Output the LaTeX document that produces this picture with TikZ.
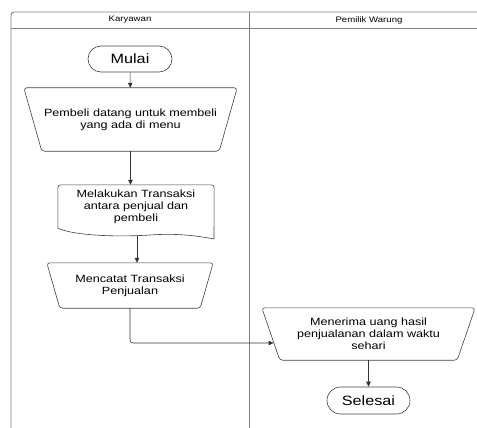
\documentclass[tikz,border=0pt]{standalone}
\usepackage{fontspec}
\setmainfont{Liberation Sans}[FakeStretch=1.2]
\usetikzlibrary{shapes.misc,arrows.meta,calc}

\begin{document}
\begin{tikzpicture}[x=1pt,y=-1pt,
	lane/.style={draw=black!50, line width=0.9pt},
	terminal/.style={draw=black!75, line width=0.6pt, shape=rounded rectangle, inner sep=0pt, font=\fontsize{13.5}{15}\selectfont},
	box/.style={inner sep=0pt, align=center, font=\fontsize{10.5}{11.8}\selectfont},
	outline/.style={draw=black!75, line width=0.6pt, rounded corners=3pt},
	flow/.style={draw=black!80, line width=0.6pt, -{Triangle[length=5pt,width=4.5pt]}}]
	\useasboundingbox (0,0) rectangle (477,428);

	\draw[lane, rounded corners=3pt] (477,12) -- (11,12) -- (11,428);
	\draw[lane] (11,28.5) -- (477,28.5);
	\draw[lane] (249,12) -- (249,428);
	\node[font=\fontsize{8}{9}\selectfont] (karyawan) at (130,20) {Karyawan};
	\node[font=\fontsize{8}{9}\selectfont] (pemilik) at (369,20) {Pemilik Warung};

	\node[terminal, minimum width=84pt, minimum height=26pt] (mulai) at (130,59) {Mulai};

	\node[box, minimum width=213pt, minimum height=63pt] (pembeli) at (130.5,119.5) {Pembeli datang untuk membeli\\yang ada di menu};
	\draw[outline] (pembeli.north west) -- (pembeli.north east) -- ($(pembeli.south east)+(-18,0)$) -- ($(pembeli.south west)+(18,0)$) -- cycle;

	\node[box, minimum width=156pt, minimum height=43pt] (transaksi) at (136,206.5) {Melakukan Transaksi\\antara penjual dan\\pembeli};
	\draw[outline] (transaksi.south west) -- (transaksi.north west) -- (transaksi.north east) -- (214,239);
	\draw[draw=black!75, line width=0.6pt] (transaksi.south west) .. controls (75,236) and (120,237) .. (150,235) .. controls (178,233) and (198,236) .. (214,239);
	\coordinate (transaksiBawah) at (137,236);

	\node[box, minimum width=166pt, minimum height=45pt] (mencatat) at (130,285.5) {Mencatat Transaksi\\Penjualan};
	\draw[outline] (mencatat.north west) -- (mencatat.north east) -- ($(mencatat.south east)+(-13,0)$) -- ($(mencatat.south west)+(13,0)$) -- cycle;

	\node[box, minimum width=213pt, minimum height=52pt] (menerima) at (368.5,334) {Menerima uang hasil\\penjualanan dalam waktu\\sehari};
	\draw[outline] (menerima.north west) -- (menerima.north east) -- ($(menerima.south east)+(-18,0)$) -- ($(menerima.south west)+(18,0)$) -- cycle;
	\coordinate (menerimaKiri) at (273.5,343);

	\node[terminal, minimum width=83pt, minimum height=27pt] (selesai) at (368.5,400.5) {Selesai};

	\draw[flow] (mulai) -- (pembeli);
	\draw[flow] (pembeli.south) -- (pembeli.south |- transaksi.north);
	\draw[flow] (transaksiBawah) -- (transaksiBawah |- mencatat.north);
	\draw[flow, rounded corners=3pt] (mencatat.south) |- (menerimaKiri);
	\draw[flow] (menerima) -- (selesai);
\end{tikzpicture}
\end{document}
